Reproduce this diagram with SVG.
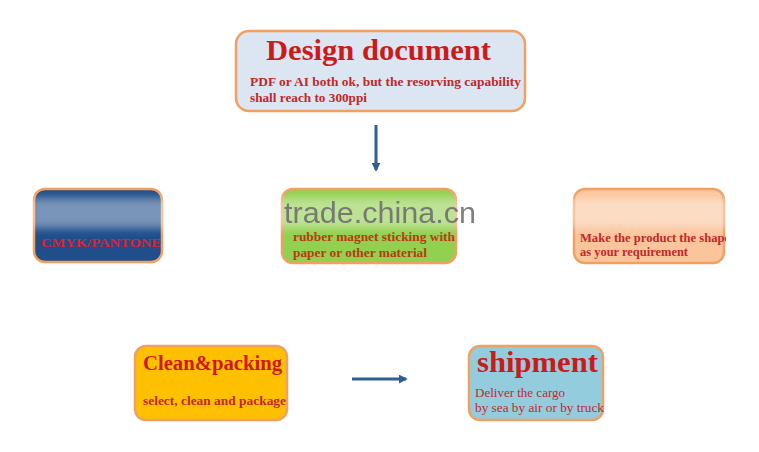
<svg xmlns="http://www.w3.org/2000/svg" width="759" height="452" viewBox="0 0 759 452">
<defs>
<style>
.box{stroke:#f0a060;stroke-width:2.5}
.t{font-family:"Liberation Serif","Times New Roman",serif;font-weight:bold;fill:#cc1a1a}
.s{font-family:"Liberation Serif","Times New Roman",serif;font-weight:bold;font-size:13px;fill:#c0282a}
.conn{stroke:#2f5f92;stroke-width:3;fill:none}
</style>
<marker id="ah" viewBox="0 0 10 10" refX="8" refY="5" markerWidth="3" markerHeight="3" orient="auto">
<path d="M0,0 L10,5 L0,10 z" fill="#2f5f92"/>
</marker>
<filter id="blur" x="-10%" y="-50%" width="120%" height="200%"><feGaussianBlur stdDeviation="4"/></filter>
<clipPath id="c3"><rect x="574" y="188" width="152" height="75" rx="12"/></clipPath>
</defs>
<rect width="759" height="452" fill="#ffffff"/>

<g id="design">
<rect class="box" x="236" y="31" width="289" height="80" rx="13" fill="#dce6f2"/>
<text class="t" x="266" y="60" font-size="30" textLength="225" lengthAdjust="spacingAndGlyphs">Design document</text>
<text class="s" x="250" y="86" textLength="271" lengthAdjust="spacingAndGlyphs">PDF or AI both ok, but the resorving capability</text>
<text class="s" x="250" y="102" textLength="117" lengthAdjust="spacingAndGlyphs">shall reach to 300ppi</text>
</g>

<g id="color">
<rect class="box" x="34" y="189" width="128" height="73" rx="11" fill="#1f4e8a"/>
<text class="s" x="41" y="247" font-size="12" textLength="120" lengthAdjust="spacingAndGlyphs" style="fill:#e02030">CMYK/PANTONE</text>
</g>

<g id="material">
<rect class="box" x="282" y="189" width="174" height="74" rx="11" fill="#92d050"/>
<text class="s" x="293" y="241" textLength="162" lengthAdjust="spacingAndGlyphs" style="fill:#b83a10">rubber magnet sticking with</text>
<text class="s" x="293" y="257" textLength="134" lengthAdjust="spacingAndGlyphs" style="fill:#b83a10">paper or other material</text>
</g>

<g id="shape">
<rect class="box" x="574" y="189" width="150" height="74" rx="11" fill="#fbc59c"/>
<g clip-path="url(#c3)">
<text class="s" x="580" y="242" font-size="12" textLength="150" lengthAdjust="spacingAndGlyphs" style="fill:#c0282a">Make the product the shape</text>
</g>
<text class="s" x="580" y="256" font-size="12" textLength="108" lengthAdjust="spacingAndGlyphs" style="fill:#c0282a">as your requirement</text>
</g>

<rect x="30" y="198" width="705" height="30" fill="#ffffff" opacity="0.4" filter="url(#blur)"/>

<g id="packing">
<rect class="box" x="135" y="346" width="152" height="74" rx="11" fill="#ffc000"/>
<text class="t" x="143" y="370" font-size="20" textLength="139" lengthAdjust="spacingAndGlyphs" style="fill:#d01818">Clean&amp;packing</text>
<text class="s" x="143" y="405" textLength="143" lengthAdjust="spacingAndGlyphs" style="fill:#c0282a">select, clean and package</text>
</g>

<g id="shipment">
<rect class="box" x="469" y="346" width="134" height="74" rx="11" fill="#93cddd"/>
<text class="t" x="477" y="372" font-size="30" textLength="121" lengthAdjust="spacingAndGlyphs">shipment</text>
<text class="s" x="475" y="397" textLength="90" lengthAdjust="spacingAndGlyphs" style="fill:#c0282a;font-weight:normal">Deliver the cargo</text>
<text class="s" x="475" y="412" textLength="129" lengthAdjust="spacingAndGlyphs" style="fill:#c0282a;font-weight:normal">by sea by air or by truck</text>
</g>

<g id="connectors">
<line class="conn" x1="376" y1="125" x2="376" y2="170" marker-end="url(#ah)"/>
<line class="conn" x1="352" y1="379" x2="406" y2="379" marker-end="url(#ah)"/>
</g>

<text x="284" y="223" font-family="Liberation Sans, Arial, sans-serif" font-size="29" textLength="192" lengthAdjust="spacingAndGlyphs" fill="#6a6a6a" opacity="0.85">trade.china.cn</text>
</svg>
